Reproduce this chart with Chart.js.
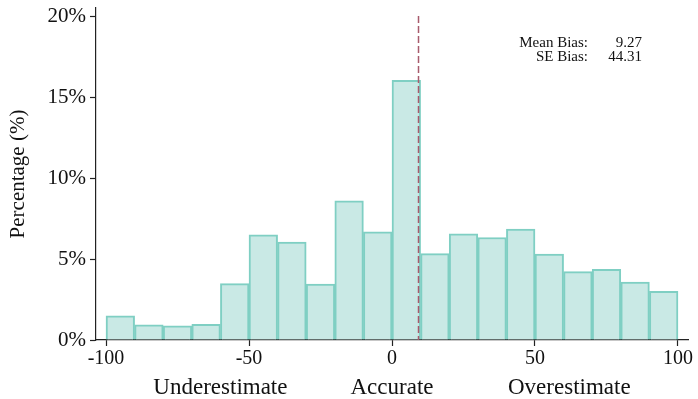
<!DOCTYPE html>
<html>
<head>
<meta charset="utf-8">
<script src="https://cdn.jsdelivr.net/npm/chart.js@4.4.1/dist/chart.umd.min.js"></script>
<style>
  html, body { margin: 0; padding: 0; background: #fff; }
  #wrap { width: 698px; height: 399px; }
</style>
</head>
<body>
<div id="wrap"><canvas id="bias-chart"></canvas></div>
<script>
// Histogram of bias, bins of width 10 from -100 to 100
const binCenters = [-95, -85, -75, -65, -55, -45, -35, -25, -15, -5, 5, 15, 25, 35, 45, 55, 65, 75, 85, 95];
const percentages = [1.5, 0.93, 0.87, 0.97, 3.48, 6.5, 6.05, 3.46, 8.6, 6.68, 16.03, 5.33, 6.55, 6.33, 6.85, 5.3, 4.22, 4.37, 3.57, 3.0];
const xTickValues = [-100, -50, 0, 50, 100];
const yTickValues = [0, 5, 10, 15, 20];
const meanBias = 9.27;
const seBias = 44.31;
const regionLabels = ['Underestimate', 'Accurate', 'Overestimate'];
const regionPositions = [-60, 0, 62];

const serif = "'Liberation Serif', 'DejaVu Serif', serif";

// Dashed mean line, stats box and region labels under the axis
const extrasPlugin = {
    id: 'extras',
    afterDatasetsDraw(chart) {
        const { ctx, chartArea, scales } = chart;
        const x = scales.x.getPixelForValue(meanBias);
        ctx.save();
        ctx.strokeStyle = '#a85a6c';
        ctx.lineWidth = 1.5;
        ctx.setLineDash([7, 3]);
        ctx.beginPath();
        ctx.moveTo(x, scales.y.getPixelForValue(20));
        ctx.lineTo(x, chartArea.bottom);
        ctx.stroke();
        ctx.setLineDash([]);

        ctx.fillStyle = '#111';
        ctx.font = '15px ' + serif;
        ctx.textAlign = 'right';
        ctx.textBaseline = 'middle';
        const labelRight = chartArea.right - 100;
        const valueRight = chartArea.right - 46;
        ctx.fillText('Mean Bias:', labelRight, 43);
        ctx.fillText(meanBias.toFixed(2), valueRight, 43);
        ctx.fillText('SE Bias:', labelRight, 57);
        ctx.fillText(seBias.toFixed(2), valueRight, 57);

        ctx.font = '23px ' + serif;
        ctx.textAlign = 'center';
        regionLabels.forEach((label, i) => {
            ctx.fillText(label, scales.x.getPixelForValue(regionPositions[i]), 388);
        });
        ctx.restore();
    }
};

const ctx = document.getElementById('bias-chart').getContext('2d');
const biasChart = new Chart(ctx, {
    type: 'bar',
    data: {
        datasets: [{
            data: binCenters.map((x, i) => ({ x: x, y: percentages[i] })),
            backgroundColor: '#c9e9e5',
            borderColor: '#7fcfc3',
            borderWidth: 2,
            barPercentage: 1,
            categoryPercentage: 1
        }]
    },
    options: {
        responsive: true,
        maintainAspectRatio: false,
        animation: false,
        layout: { padding: { left: 6, right: 10, top: 8, bottom: 0 } },
        plugins: {
            legend: { display: false },
            tooltip: { enabled: false }
        },
        scales: {
            x: {
                type: 'linear',
                offset: false,
                min: -103.5,
                max: 103.5,
                afterBuildTicks: s => { s.ticks = xTickValues.map(v => ({ value: v })); },
                afterFit: s => { s.height = 59; },
                grid: { offset: false, drawOnChartArea: false, drawTicks: true, tickLength: 6, color: '#222', tickWidth: 1.2 },
                border: { display: true, color: '#222', width: 1.2 },
                ticks: {
                    color: '#111',
                    font: { family: serif, size: 20 },
                    padding: 1,
                    maxRotation: 0,
                    callback: v => String(v)
                }
            },
            y: {
                min: 0,
                max: 20.5,
                afterBuildTicks: s => { s.ticks = yTickValues.map(v => ({ value: v })); },
                afterFit: s => { s.width = 90; s.paddingTop = 0; s.paddingBottom = 0; },
                grid: { drawOnChartArea: false, drawTicks: true, tickLength: 6, color: '#222', tickWidth: 1.2 },
                border: { display: true, color: '#222', width: 1.2 },
                ticks: {
                    color: '#111',
                    font: { family: serif, size: 21 },
                    padding: 4,
                    callback: v => v + '%'
                },
                title: {
                    display: true,
                    text: 'Percentage (%)',
                    color: '#111',
                    font: { family: serif, size: 21 },
                    padding: 0
                }
            }
        }
    },
    plugins: [extrasPlugin]
});
</script>
</body>
</html>
